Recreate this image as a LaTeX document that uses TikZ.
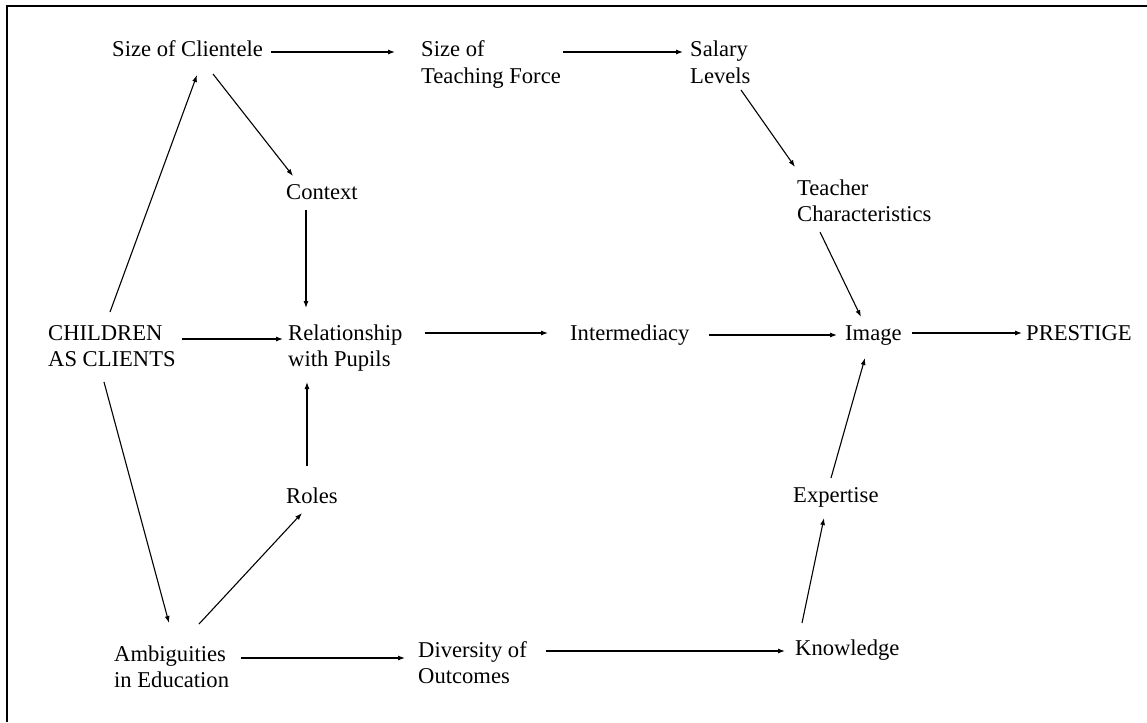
\documentclass[tikz,border=0pt]{standalone}
\usepackage{fontspec}
\setmainfont{Liberation Serif}
\usetikzlibrary{arrows.meta}

% due righe, linea di base sulla prima
\newcommand{\twolbl}[2]{\vtop{\hbox{#1}\hbox{#2}}}

\begin{document}
\begin{tikzpicture}[x=1pt, y=-1pt, >={Latex[length=7pt,width=5pt]}]
    % Stili
    \tikzstyle{lbl} = [inner sep=0pt, anchor=base west, font=\fontsize{22.6}{26.5}\selectfont]
    \tikzstyle{link} = [->, line width=1.1pt]

    % Cornice
    \useasboundingbox (0,0) rectangle (1147,722);
    \draw[line width=2.5pt] (7,722) |- (1147,6);

    % Nodi
    \node[lbl] (clientele) at (112,57) {Size of Clientele};
    \node[lbl] (teach) at (421,57) {\twolbl{Size of}{Teaching Force}};
    \node[lbl] (salary) at (690,57) {\twolbl{Salary}{Levels}};
    \node[lbl] (context) at (286,199) {Context};
    \node[lbl] (teacher) at (797,195) {\twolbl{Teacher}{Characteristics}};
    \node[lbl] (children) at (48,340) {\twolbl{CHILDREN}{AS CLIENTS}};
    \node[lbl] (relation) at (288,340) {\twolbl{Relationship}{with Pupils}};
    \node[lbl] (inter) at (570,340) {Intermediacy};
    \node[lbl] (image) at (845,340) {Image};
    \node[lbl] (prestige) at (1026,340) {PRESTIGE};
    \node[lbl] (roles) at (286,503) {Roles};
    \node[lbl] (expertise) at (793,502) {Expertise};
    \node[lbl] (ambig) at (114,661) {\twolbl{Ambiguities}{in Education}};
    \node[lbl] (divers) at (418,657) {\twolbl{Diversity of}{Outcomes}};
    \node[lbl] (knowledge) at (795,655) {Knowledge};

    % Collegamenti
    \draw[link] ([shift={(8,-5)}]clientele.base east) -- ([shift={(-26,-5)}]teach.base west);
    \draw[link] ([shift={(2,-5)}]teach.base east) -- ([shift={(-7,-5)}]salary.base west);
    \draw[link] ([shift={(51,33)}]salary.base west) -- ([shift={(-2,-28)}]teacher.base west);
    \draw[link] ([shift={(101,17)}]clientele.base west) -- ([shift={(7,-23)}]context.base west);
    \draw[link] ([shift={(62,-28)}]children.base west) -- ([shift={(85,18)}]clientele.base west);
    \draw[link] ([shift={(20,11)}]context.base west) -- ([shift={(18,-32)}]relation.base west);
    \draw[link] ([shift={(6,-1)}]children.base east) -- ([shift={(-5,-1)}]relation.base west);
    \draw[link] ([shift={(22,-7)}]relation.base east) -- ([shift={(-22,-7)}]inter.base west);
    \draw[link] ([shift={(19,-5)}]inter.base east) -- ([shift={(-8,-5)}]image.base west);
    \draw[link] ([shift={(23,37)}]teacher.base west) -- ([shift={(16,-23)}]image.base west);
    \draw[link] ([shift={(10,-7)}]image.base east) -- ([shift={(-4,-7)}]prestige.base west);
    \draw[link] ([shift={(21,-37)}]roles.base west) -- ([shift={(19,42)}]relation.base west);
    \draw[link] ([shift={(56,42)}]children.base west) -- ([shift={(55,-38)}]ambig.base west);
    \draw[link] ([shift={(85,-37)}]ambig.base west) -- ([shift={(16,10)}]roles.base west);
    \draw[link] ([shift={(12,-3)}]ambig.base east) -- ([shift={(-13,1)}]divers.base west);
    \draw[link] ([shift={(19,-6)}]divers.base east) -- ([shift={(-10,-4)}]knowledge.base west);
    \draw[link] ([shift={(7,-32)}]knowledge.base west) -- ([shift={(31,16)}]expertise.base west);
    \draw[link] ([shift={(38,-24)}]expertise.base west) -- ([shift={(20,18)}]image.base west);
\end{tikzpicture}
\end{document}
